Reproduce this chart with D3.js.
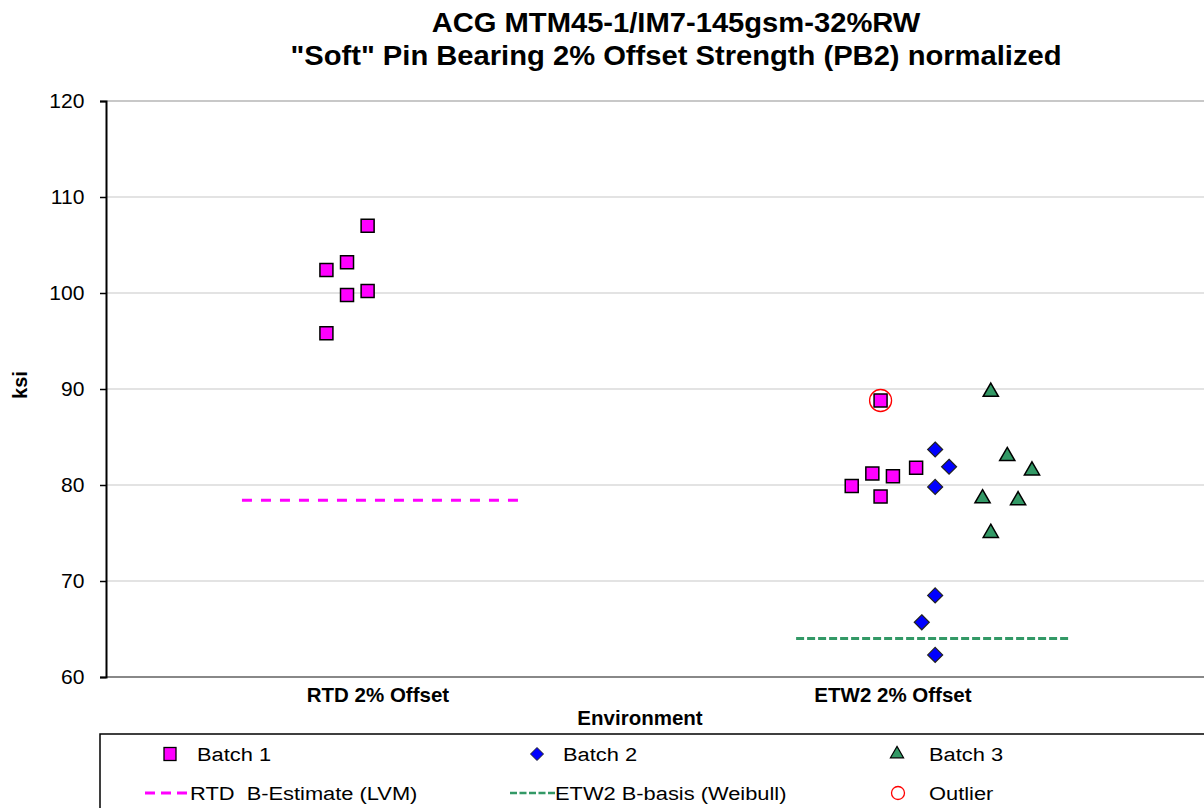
<!DOCTYPE html>
<html>
<head>
<meta charset="utf-8">
<script src="https://cdn.jsdelivr.net/npm/d3@7"></script>
<style>
  body { margin: 0; background: #fff; }
  svg { font-family: "Liberation Sans", Arial, sans-serif; display: block; }
</style>
</head>
<body>
<div id="chart"></div>
<script>
// chart data
const titleLines = ["ACG MTM45-1/IM7-145gsm-32%RW", "\"Soft\" Pin Bearing 2% Offset Strength (PB2) normalized"];
const categories = ["RTD 2% Offset", "ETW2 2% Offset"];   // category positions 1 and 2
const yTicks = [60, 70, 80, 90, 100, 110, 120];

// [x position (category units), ksi]
const batch1 = [
  [0.90, 102.4], [0.94, 103.2], [0.98, 107.0], [0.94, 99.8], [0.98, 100.2], [0.90, 95.8],
  [1.92, 79.9], [1.96, 81.2], [1.976, 78.8], [2.00, 80.9], [2.045, 81.8], [1.976, 88.8]
];
const batch2 = [
  [2.082, 83.7], [2.109, 81.9], [2.082, 79.8], [2.082, 68.5], [2.056, 65.7], [2.082, 62.3]
];
const batch3 = [
  [2.19, 89.7], [2.222, 83.0], [2.27, 81.5], [2.174, 78.6], [2.243, 78.4], [2.19, 75.0]
];
const outliers = [[1.976, 88.8]];
const rtdBEstimate = { x0: 0.736, x1: 1.278, value: 78.4 };
const etw2BBasis = { x0: 1.812, x1: 2.344, value: 64.0 };

const W = 1204, H = 808;
const margin = { top: 101, right: 0, bottom: 131, left: 106 };

const svg = d3.select("#chart").append("svg")
  .attr("width", W).attr("height", H);

const x = d3.scaleLinear().domain([0.472, 2.604]).range([margin.left, W - margin.right]);
const y = d3.scaleLinear().domain([60, 120]).range([H - margin.bottom, margin.top]);

// text in the reference is a bit wider than it is tall
function label(parent, tx, ty, str, size, opts = {}) {
  const sx = opts.sx || 1;
  const g = parent.append("g").attr("transform", `translate(${tx},${ty}) scale(${sx},1)`);
  return g.append("text")
    .attr("text-anchor", opts.anchor || "start")
    .attr("font-size", size)
    .attr("font-weight", opts.bold ? "bold" : null)
    .style("white-space", "pre")
    .text(str);
}

// title
titleLines.forEach((t, i) => label(svg, 676, 32 + i * 33, t, 27, { anchor: "middle", bold: true, sx: 1.08 }));

// gridlines
svg.append("g").selectAll("line").data(yTicks).join("line")
  .attr("x1", margin.left).attr("x2", W)
  .attr("y1", d => y(d)).attr("y2", d => y(d))
  .attr("stroke", d => d === 60 ? "#888" : "#c8c8c8")
  .attr("stroke-width", d => (d === 120 || d === 60) ? 2 : 1.2);

// y axis
const yAxis = svg.append("g")
  .attr("transform", `translate(${margin.left},0)`)
  .call(d3.axisLeft(y).tickValues(yTicks).tickSize(6).tickPadding(14));
yAxis.select(".domain").attr("stroke", "#000").attr("stroke-width", 2);
yAxis.selectAll(".tick line").attr("stroke", "#000").attr("stroke-width", 1.5);
yAxis.selectAll(".tick text").attr("font-size", 19.5).attr("fill", "#000")
  .attr("font-family", "Liberation Sans, Arial, sans-serif")
  .attr("transform", "scale(1.08,1)");

const ksi = svg.append("g")
  .attr("transform", `translate(27,${(y(60) + y(120)) / 2 - 4}) rotate(-90)`);
ksi.append("text").attr("text-anchor", "middle")
  .attr("font-size", 20).attr("font-weight", "bold").text("ksi");

// category labels
const catPos = [1, 2];
categories.forEach((c, i) => label(svg, x(catPos[i]), 702, c, 20.5, { anchor: "middle", bold: true }));
label(svg, 640, 725, "Environment", 20.5, { anchor: "middle", bold: true });

// reference lines
svg.append("line")
  .attr("x1", x(rtdBEstimate.x0)).attr("x2", x(rtdBEstimate.x1))
  .attr("y1", y(rtdBEstimate.value)).attr("y2", y(rtdBEstimate.value))
  .attr("stroke", "#ff00ff").attr("stroke-width", 3).attr("stroke-dasharray", "10,9");
svg.append("line")
  .attr("x1", x(etw2BBasis.x0)).attr("x2", x(etw2BBasis.x1))
  .attr("y1", y(etw2BBasis.value)).attr("y2", y(etw2BBasis.value))
  .attr("stroke", "#339966").attr("stroke-width", 3).attr("stroke-dasharray", "8,3");

// markers
const sq = d3.symbol().type(d3.symbolSquare).size(169);
const diamondPath = r => `M0,${-r}L${r},0L0,${r}L${-r},0Z`;
const tri = d3.symbol().type(d3.symbolTriangle).size(100);

svg.append("g").selectAll("path").data(batch1).join("path")
  .attr("d", sq)
  .attr("transform", d => `translate(${x(d[0])},${y(d[1])})`)
  .attr("fill", "#ff00ff").attr("stroke", "#000").attr("stroke-width", 1.5);

svg.append("g").selectAll("path").data(batch2).join("path")
  .attr("d", diamondPath(7.5))
  .attr("transform", d => `translate(${x(d[0])},${y(d[1])})`)
  .attr("fill", "#0000ff").attr("stroke", "#222").attr("stroke-width", 1.2);

svg.append("g").selectAll("path").data(batch3).join("path")
  .attr("d", tri)
  .attr("transform", d => `translate(${x(d[0])},${y(d[1])})`)
  .attr("fill", "#339966").attr("stroke", "#000").attr("stroke-width", 1.5);

svg.append("g").selectAll("circle").data(outliers).join("circle")
  .attr("cx", d => x(d[0])).attr("cy", d => y(d[1]))
  .attr("r", 11)
  .attr("fill", "none").attr("stroke", "#ff0000").attr("stroke-width", 1.3);

// legend
const legend = svg.append("g");
legend.append("rect")
  .attr("x", 100).attr("y", 734).attr("width", 1110).attr("height", 90)
  .attr("fill", "#fff").attr("stroke", "#000").attr("stroke-width", 1.5);

const legendItems = [
  { label: "Batch 1", kind: "square", mx: 170, tx: 197, ty: 754 },
  { label: "Batch 2", kind: "diamond", mx: 537, tx: 563, ty: 754 },
  { label: "Batch 3", kind: "triangle", mx: 897, tx: 929, ty: 754 },
  { label: "RTD  B-Estimate (LVM)", kind: "rtd", mx: 167, tx: 190, ty: 793 },
  { label: "ETW2 B-basis (Weibull)", kind: "etw", mx: 532, tx: 555, ty: 793 },
  { label: "Outlier", kind: "outlier", mx: 898, tx: 929, ty: 793 }
];

legendItems.forEach(d => {
  const g = legend.append("g");
  if (d.kind === "square") {
    g.append("rect").attr("x", d.mx - 6).attr("y", d.ty - 6.5).attr("width", 12).attr("height", 13)
      .attr("fill", "#ff00ff").attr("stroke", "#000").attr("stroke-width", 1.3);
  } else if (d.kind === "diamond") {
    g.append("path").attr("d", diamondPath(6.5))
      .attr("transform", `translate(${d.mx},${d.ty})`)
      .attr("fill", "#0000ff").attr("stroke", "#222").attr("stroke-width", 1);
  } else if (d.kind === "triangle") {
    g.append("path").attr("d", d3.symbol().type(d3.symbolTriangle).size(75)())
      .attr("transform", `translate(${d.mx},${d.ty})`)
      .attr("fill", "#339966").attr("stroke", "#000").attr("stroke-width", 1.2);
  } else if (d.kind === "rtd") {
    g.append("line").attr("x1", 145).attr("x2", 190).attr("y1", d.ty).attr("y2", d.ty)
      .attr("stroke", "#ff00ff").attr("stroke-width", 3).attr("stroke-dasharray", "10,6");
  } else if (d.kind === "etw") {
    g.append("line").attr("x1", 510).attr("x2", 555).attr("y1", d.ty).attr("y2", d.ty)
      .attr("stroke", "#339966").attr("stroke-width", 2.5).attr("stroke-dasharray", "7,2.5");
  } else if (d.kind === "outlier") {
    g.append("circle").attr("cx", d.mx).attr("cy", d.ty).attr("r", 6.5)
      .attr("fill", "none").attr("stroke", "#ff0000").attr("stroke-width", 1.3);
  }
  label(g, d.tx, d.ty + 7, d.label, 19, { sx: 1.15 });
});
</script>
</body>
</html>
